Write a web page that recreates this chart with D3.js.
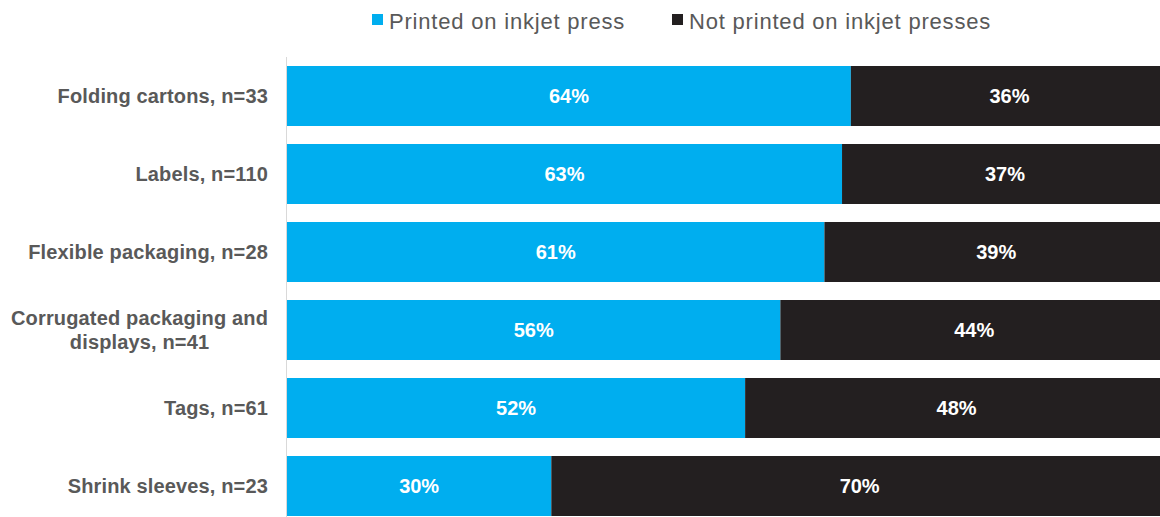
<!DOCTYPE html>
<html>
<head>
<meta charset="utf-8">
<script src="https://cdn.jsdelivr.net/npm/d3@7"></script>
<style>
  html, body { margin: 0; padding: 0; background: #fff; }
  svg { display: block; font-family: "Liberation Sans", Arial, sans-serif; }
</style>
</head>
<body>
<svg id="chart" width="1160" height="517"></svg>
<script>
// chart data
var categories = [
   "Folding cartons, n=33",
   "Labels, n=110",
   "Flexible packaging, n=28",
   "Corrugated packaging and\ndisplays, n=41",
   "Tags, n=61",
   "Shrink sleeves, n=23"
];
var printed    = [64, 63, 61, 56, 52, 30];
var notPrinted = [36, 37, 39, 44, 48, 70];
var seriesNames = ["Printed on inkjet press", "Not printed on inkjet presses"];
var seriesColors = ["#00aeef", "#231f20"];

var svg = d3.select("#chart");

var rows = categories.map(function(c, i) {
   return { cat: c, printed: printed[i], notPrinted: notPrinted[i] };
});
var stacked = d3.stack().keys(["printed", "notPrinted"])(rows);

// bars run a little past the right edge of the picture, like the original
var x = d3.scaleLinear().domain([0, 100]).range([287, 1168]);
var y = d3.scaleBand().domain(categories).range([57, 525])
   .paddingInner(0.2308).paddingOuter(0.1154);

// bars
var layer = svg.selectAll("g.layer").data(stacked).enter()
   .append("g").attr("class", "layer")
   .attr("fill", function(d, i) { return seriesColors[i]; });

layer.selectAll("rect").data(function(d) { return d; }).enter()
   .append("rect")
   .attr("x", function(d) { return x(d[0]); })
   .attr("y", function(d) { return y(d.data.cat); })
   .attr("width", function(d) { return x(d[1]) - x(d[0]); })
   .attr("height", y.bandwidth());

// value labels, centred in each segment
layer.selectAll("text").data(function(d) { return d; }).enter()
   .append("text")
   .attr("x", function(d) { return (x(d[0]) + x(d[1])) / 2; })
   .attr("y", function(d) { return y(d.data.cat) + y.bandwidth() / 2 + 7; })
   .attr("text-anchor", "middle")
   .attr("fill", "#fff")
   .attr("font-size", "20px")
   .attr("font-weight", "bold")
   .text(function(d) { return (d[1] - d[0]) + "%"; });

// vertical axis line
svg.append("line")
   .attr("x1", 286.5).attr("x2", 286.5)
   .attr("y1", y.range()[0]).attr("y2", y.range()[1])
   .attr("stroke", "#d9d9d9").attr("stroke-width", 1);

// category labels: centred block, right edge at 268
categories.forEach(function(c) {
   var lines = c.split("\n");
   var g = svg.append("g");
   var t = g.append("text")
      .attr("text-anchor", "middle")
      .attr("fill", "#595959")
      .attr("font-size", "20px")
      .attr("font-weight", "bold")
      .attr("letter-spacing", "0.15px");
   lines.forEach(function(l, i) {
      t.append("tspan")
         .attr("x", 0)
         .attr("y", 7 + (i - (lines.length - 1) / 2) * 24.5)
         .text(l);
   });
   var w = t.node().getBBox().width;
   g.attr("transform", "translate(" + (268 - w / 2) + "," + (y(c) + y.bandwidth() / 2) + ")");
});

// legend
var legendX = [372, 672];
seriesNames.forEach(function(name, i) {
   svg.append("rect")
      .attr("x", legendX[i]).attr("y", 14)
      .attr("width", 11).attr("height", 11)
      .attr("fill", seriesColors[i]);
   svg.append("text")
      .attr("x", legendX[i] + 17).attr("y", 28.5)
      .attr("fill", "#595959")
      .attr("font-size", "22px")
      .attr("letter-spacing", "0.8px")
      .text(name);
});
</script>
</body>
</html>
